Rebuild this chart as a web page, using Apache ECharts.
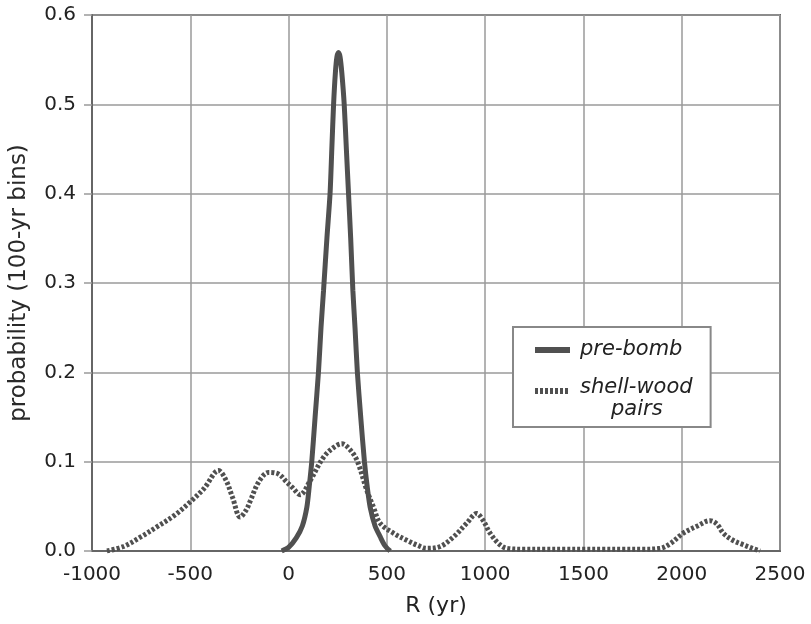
<!DOCTYPE html>
<html>
<head>
<meta charset="utf-8">
<script src="https://cdn.jsdelivr.net/npm/echarts@6/dist/echarts.min.js"></script>
<style>
html,body{margin:0;padding:0;background:#fff;}
#chart{width:811px;height:624px;}
</style>
</head>
<body>
<div id="chart"></div>
<script>
// ---- data ----
var xTicks = [-1000, -500, 0, 500, 1000, 1500, 2000, 2500];
var yTicks = [0.0, 0.1, 0.2, 0.3, 0.4, 0.5, 0.6];

var preBombName = 'pre-bomb';
var preBombR = [-35,0,40,70,93,105,118,135,152,165,178,195,211,220,229,238,246,254,262,271,283,294,305,316,327,338,350,367,386,400,415,440,466,490,517];
var preBombP = [0,0.004,0.015,0.028,0.049,0.072,0.1,0.15,0.2,0.25,0.292,0.35,0.4,0.45,0.5,0.535,0.553,0.558,0.553,0.535,0.5,0.45,0.4,0.35,0.292,0.25,0.2,0.15,0.1,0.072,0.049,0.028,0.016,0.006,0];

var pairsName = 'shell-wood pairs';
var pairsR = [-924,-840,-750,-670,-580,-500,-430,-356,-320,-285,-246,-215,-195,-150,-102,-50,-9,20,59,110,178,230,271,310,347,398,432,466,533,601,660,703,771,840,906,957,990,1025,1070,1110,1200,1300,1400,1500,1600,1700,1800,1890,1940,2008,2080,2144,2180,2211,2260,2313,2360,2398];
var pairsP = [0,0.005,0.016,0.027,0.040,0.055,0.070,0.090,0.080,0.060,0.038,0.046,0.056,0.078,0.088,0.086,0.077,0.071,0.063,0.079,0.105,0.116,0.120,0.114,0.102,0.068,0.049,0.031,0.020,0.012,0.006,0.003,0.005,0.016,0.031,0.042,0.034,0.020,0.008,0.003,0.002,0.002,0.002,0.002,0.002,0.002,0.002,0.003,0.008,0.020,0.028,0.034,0.030,0.020,0.012,0.007,0.003,0];

function pairs(xs, ys){ return xs.map(function(x,i){ return [x, ys[i]]; }); }

var FONT = 'DejaVu Sans';
var LINE = '#505050';
var HIDDEN = { color: 'rgba(0,0,0,0)', borderColor: 'rgba(0,0,0,0)', borderWidth: 0 };
var chart = echarts.init(document.getElementById('chart'), null, {renderer:'canvas'});
chart.setOption({
  animation: false,
  backgroundColor: '#fff',
  grid: { left: 92, right: 31, top: 15, bottom: 73, containLabel: false, outerBoundsMode: 'none',
          show: true, borderColor: '#666', borderWidth: 2, backgroundColor: 'transparent' },
  xAxis: {
    type: 'value', min: xTicks[0], max: xTicks[xTicks.length-1], interval: 500,
    name: 'R (yr)', nameLocation: 'middle', nameGap: 44,
    nameTextStyle: { fontFamily: FONT, fontSize: 22, color: '#222' },
    axisLine: { show: true, onZero: false, lineStyle: { color: '#666', width: 2 } },
    axisTick: { show: false },
    axisLabel: { fontFamily: FONT, fontSize: 20, color: '#222', margin: 14, formatter: function(v){ return String(v); } },
    splitLine: { show: true, lineStyle: { color: '#9a9a9a', width: 1.5 } }
  },
  yAxis: {
    type: 'value', min: yTicks[0], max: yTicks[yTicks.length-1], interval: 0.1,
    name: 'probability (100-yr bins)', nameLocation: 'middle', nameGap: 61, nameRotate: 90,
    nameTextStyle: { fontFamily: FONT, fontSize: 23, color: '#2a2a2a' },
    axisLine: { show: true, onZero: false, lineStyle: { color: '#666', width: 2 } },
    axisTick: { show: true, length: 8, lineStyle: { color: '#9a9a9a', width: 1.5 } },
    axisLabel: { fontFamily: FONT, fontSize: 20, color: '#222', margin: 16, formatter: function(v){ return v.toFixed(1); } },
    splitLine: { show: true, lineStyle: { color: '#9a9a9a', width: 1.5 } }
  },
  legend: {
    left: 513, top: 327, orient: 'vertical',
    padding: [12, 18, 6, 19],
    itemWidth: 35, itemHeight: 14, itemGap: 0,
    borderColor: '#888', borderWidth: 2, backgroundColor: '#fff',
    textStyle: { fontFamily: FONT, fontStyle: 'italic', fontSize: 21, color: '#222', padding: [0,0,0,5], lineHeight: 22,
      rich: {
        a: { fontFamily: FONT, fontStyle: 'italic', fontSize: 21, color: '#222', lineHeight: 22 },
        b: { fontFamily: FONT, fontStyle: 'italic', fontSize: 21, color: '#222', lineHeight: 22, padding: [0,0,0,31] }
      }
    },
    data: [
      { name: preBombName, itemStyle: HIDDEN, lineStyle: { color: LINE, width: 6, type: 'solid' } },
      { name: pairsName, itemStyle: HIDDEN, lineStyle: { color: LINE, width: 6, type: [3, 2] }, textStyle: { padding: [16,0,0,5] } }
    ],
    formatter: function(n){
      if (n === pairsName) return '{a|shell-wood}\n{b|pairs}';
      return n;
    },
    z: 10
  },
  series: [
    {
      name: pairsName, type: 'line', data: pairs(pairsR, pairsP),
      smooth: 0.35, symbol: 'none',
      lineStyle: { color: LINE, width: 5, type: [3, 2] },
      itemStyle: { color: LINE },
      z: 2
    },
    {
      name: preBombName, type: 'line', data: pairs(preBombR, preBombP),
      smooth: 0.25, symbol: 'none',
      lineStyle: { color: LINE, width: 5 },
      itemStyle: { color: LINE },
      z: 3
    }
  ]
});
</script>
</body>
</html>
